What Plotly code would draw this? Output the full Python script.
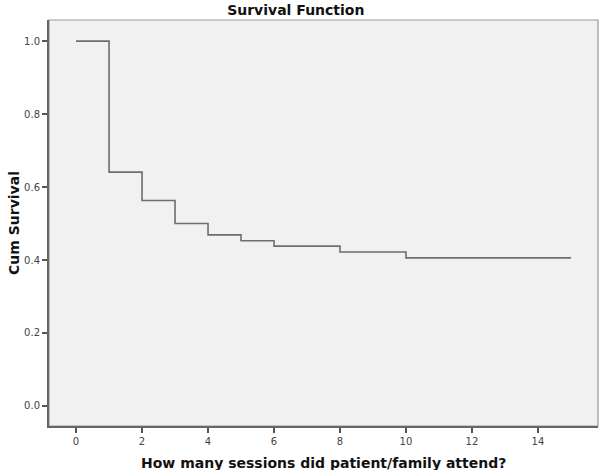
import plotly.graph_objects as go

# Kaplan-Meier step data
times = [0, 1, 2, 3, 4, 5, 6, 8, 10, 15]
survival = [1.0, 0.641, 0.563, 0.500, 0.469, 0.453, 0.438, 0.422, 0.406, 0.406]
x_ticks = [0, 2, 4, 6, 8, 10, 12, 14]
y_ticks = [0.0, 0.2, 0.4, 0.6, 0.8, 1.0]
y_tick_labels = ["0.0", "0.2", "0.4", "0.6", "0.8", "1.0"]

fig = go.Figure()
fig.add_trace(go.Scatter(
    x=times, y=survival, mode="lines",
    line=dict(shape="hv", color="#6e6e6e", width=1.6),
    hoverinfo="skip", showlegend=False,
))

fig.update_layout(
    width=600, height=470,
    margin=dict(l=49, r=2, t=20, b=44, autoexpand=False),
    paper_bgcolor="white",
    plot_bgcolor="#f1f1f1",
    font=dict(family="DejaVu Sans", color="#333333"),
    title=dict(text="<b>Survival Function</b>", x=0.493, xanchor="center",
               y=0.979, yanchor="middle",
               font=dict(size=14, color="#111111")),
    showlegend=False,
)
fig.update_xaxes(
    range=[-0.82, 15.82], tickvals=x_ticks, ticks="outside", ticklen=5,
    tickcolor="#555555", tickwidth=1.5,
    showgrid=False, zeroline=False, automargin=False,
    showline=True, linecolor="#666666", linewidth=2, mirror=False,
    tickfont=dict(size=10, color="#444444"),
)
fig.update_yaxes(
    range=[-0.055, 1.058], tickvals=y_ticks, ticktext=y_tick_labels,
    ticks="outside", ticklen=5, tickcolor="#555555", tickwidth=1.5,
    showgrid=False, zeroline=False, automargin=False,
    showline=True, linecolor="#666666", linewidth=2,
    tickfont=dict(size=10, color="#444444"),
)
# axis titles
fig.add_annotation(text="<b>How many sessions did patient/family attend?</b>",
                   xref="paper", yref="paper", x=0.5, y=0, yshift=-37,
                   xanchor="center", yanchor="middle", showarrow=False,
                   font=dict(size=14, color="#111111"))
fig.add_annotation(text="<b>Cum Survival</b>", textangle=-90,
                   xref="paper", yref="paper", x=0, y=0.5, xshift=-35,
                   xanchor="center", yanchor="middle", showarrow=False,
                   font=dict(size=14, color="#111111"))
# lighter top/right frame
fig.add_shape(type="rect", xref="paper", yref="paper", x0=0, y0=0, x1=1, y1=1,
              line=dict(color="#999999", width=1.2), layer="below")

fig.write_html("out.html", config={"displayModeBar": False},
               post_script="document.body.style.margin='0';document.body.style.overflow='hidden';")
